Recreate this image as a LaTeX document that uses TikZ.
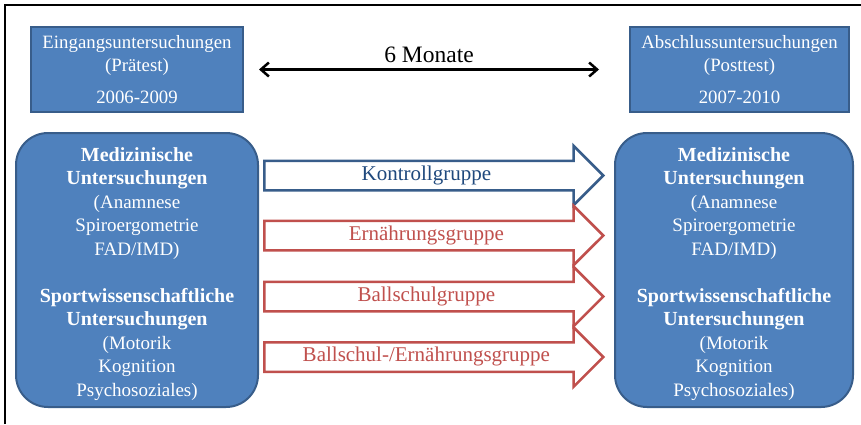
\documentclass[tikz,border=0pt]{standalone}
\usepackage{fontspec}
\setmainfont{Liberation Serif}
\usetikzlibrary{shapes, arrows.meta}

\definecolor{boxfill}{RGB}{79,129,189}
\definecolor{boxline}{RGB}{56,93,138}
\definecolor{kontrollblau}{RGB}{31,73,125}
\definecolor{gruppenrot}{RGB}{192,80,77}

\newcommand{\hd}[1]{{\fontsize{20}{23.5}\selectfont\bfseries #1}}

\tikzstyle{phase} = [draw=boxline, fill=boxfill, line width=2pt, rectangle, text=white, align=center, minimum height=85pt, font=\fontsize{18.8}{23}\selectfont]
\tikzstyle{exam} = [draw=boxline, fill=boxfill, line width=2pt, rectangle, rounded corners=32pt, text=white, align=center, minimum height=274pt, font=\fontsize{19}{23.5}\selectfont]
\tikzstyle{group} = [single arrow, fill=white, line width=2.5pt, anchor=tail, minimum width=0pt, minimum height=339pt, single arrow head extend=15pt, single arrow tip angle=90, text height=14pt, text depth=4.5pt, inner ysep=4.25pt, font=\fontsize{21}{24}\selectfont]

\begin{document}
\begin{tikzpicture}[x=1pt, y=-1pt, >={Straight Barb[length=8pt,width=14pt]}]
\useasboundingbox (0,0) rectangle (861,424);
\draw [line width=1.5pt] (5,424) -- (5,5) -- (861,5);

\node [phase, minimum width=212pt] (pre) at (137,69.5) {Eingangsuntersuchungen\\(Prätest)\\[9pt]2006-2009};
\node [phase, minimum width=219pt] (post) at (739.5,69.5) {Abschlussuntersuchungen\\(Posttest)\\[9pt]2007-2010};
\draw [<->, line width=2.5pt] ([xshift=15pt]pre.east) -- node[above=2.5pt, font=\fontsize{23.5}{26}\selectfont] (dauer) {6 Monate} ([xshift=-30pt]post.west);

\node [exam, minimum width=242pt] (medl) at (137,270) {\rule{0pt}{22pt}\hd{Medizinische}\\\hd{Untersuchungen}\\(Anamnese\\Spiroergometrie\\FAD/IMD)\\[23.5pt]\hd{Sportwissenschaftliche}\\\hd{Untersuchungen}\\(Motorik\\Kognition\\Psychosoziales)};
\node [exam, minimum width=238pt] (medr) at (734,270) {\rule{0pt}{22pt}\hd{Medizinische}\\\hd{Untersuchungen}\\(Anamnese\\Spiroergometrie\\FAD/IMD)\\[23.5pt]\hd{Sportwissenschaftliche}\\\hd{Untersuchungen}\\(Motorik\\Kognition\\Psychosoziales)};

\node [group, draw=boxline, text=kontrollblau] (kontroll) at (263,175.5) {Kontrollgruppe};
\node [group, draw=gruppenrot, text=gruppenrot] (ernaehrung) at (263,235.5) {Ernährungsgruppe};
\node [group, draw=gruppenrot, text=gruppenrot] (ballschul) at (263,296.5) {Ballschulgruppe};
\node [group, draw=gruppenrot, text=gruppenrot] (kombi) at (263,357) {Ballschul-/Ernährungsgruppe};
\end{tikzpicture}
\end{document}
